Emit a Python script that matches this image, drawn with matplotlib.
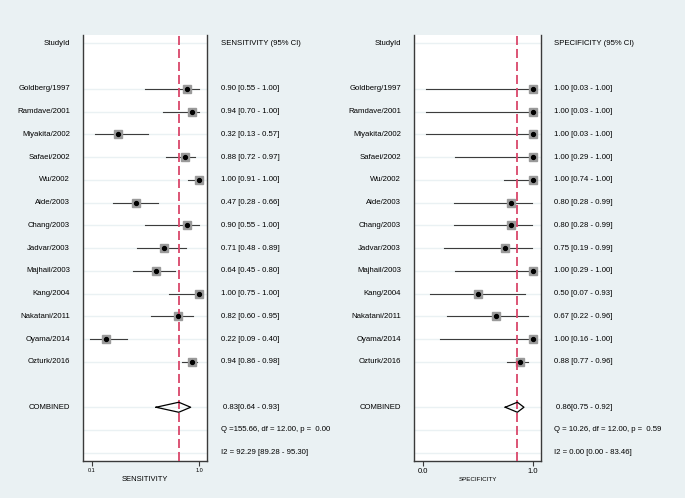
"""Paired forest plot of sensitivity and specificity (Stata midas style)."""

import matplotlib
matplotlib.use("Agg")
import matplotlib.pyplot as plt
from matplotlib.transforms import blended_transform_factory

plt.rcParams["font.family"] = ["Liberation Sans", "DejaVu Sans"]

# ── data ──────────────────────────────────────────────────────────────
studies = ["Goldberg/1997", "Ramdave/2001", "Miyakita/2002", "Safaei/2002",
           "Wu/2002", "Aide/2003", "Chang/2003", "Jadvar/2003",
           "Majhail/2003", "Kang/2004", "Nakatani/2011", "Oyama/2014",
           "Ozturk/2016"]

sens    = [0.90, 0.94, 0.32, 0.88, 1.00, 0.47, 0.90, 0.71, 0.64, 1.00, 0.82, 0.22, 0.94]
sens_lo = [0.55, 0.70, 0.13, 0.72, 0.91, 0.28, 0.55, 0.48, 0.45, 0.75, 0.60, 0.09, 0.86]
sens_hi = [1.00, 1.00, 0.57, 0.97, 1.00, 0.66, 1.00, 0.89, 0.80, 1.00, 0.95, 0.40, 0.98]

spec    = [1.00, 1.00, 1.00, 1.00, 1.00, 0.80, 0.80, 0.75, 1.00, 0.50, 0.67, 1.00, 0.88]
spec_lo = [0.03, 0.03, 0.03, 0.29, 0.74, 0.28, 0.28, 0.19, 0.29, 0.07, 0.22, 0.16, 0.77]
spec_hi = [1.00, 1.00, 1.00, 1.00, 1.00, 0.99, 0.99, 0.99, 1.00, 0.93, 0.96, 1.00, 0.96]

sens_pooled = (0.83, 0.64, 0.93)
spec_pooled = (0.86, 0.75, 0.92)

sens_stats = ["Q =155.66, df = 12.00, p =  0.00", "I2 = 92.29 [89.28 - 95.30]"]
spec_stats = ["Q = 10.26, df = 12.00, p =  0.59", "I2 = 0.00 [0.00 - 83.46]"]

# ── layout (pixels of a 685x498 canvas) ───────────────────────────────
W, H = 685, 498
BG = "#eaf1f3"
RED = "#d9466a"
FS = 5.6

fig = plt.figure(figsize=(W / 100, H / 100), dpi=100, facecolor=BG)

n = len(studies)
study_rows = list(range(2, 2 + n))
comb_row = n + 3
stat_rows = [n + 4, n + 5]
grid_rows = [0] + study_rows + [comb_row] + stat_rows


def panel(x_left, x_right, xlim, ticks, ticklabels, tick_fs,
          est, lo, hi, pooled, header, stats, xlabel, xlabel_fs,
          name_x, value_x):
    ax = fig.add_axes([x_left / W, 1 - 460.7 / H,
                       (x_right - x_left) / W, 425.7 / H])
    ax.set_facecolor("white")
    ax.set_xlim(*xlim)
    ax.set_ylim(18.35, -0.365)

    for r in grid_rows:
        ax.axhline(r, color=BG, lw=1.0, zorder=0)

    for r, e, l, h in zip(study_rows, est, lo, hi):
        ax.plot([l, h], [r, r], color="#3c3c3c", lw=0.8, zorder=2)
        ax.plot(e, r, marker="s", ms=5.2, color="#9a9a9a", mec="#9a9a9a", zorder=3)
        ax.plot(e, r, marker="o", ms=2.8, color="black", zorder=4)

    p, pl, ph = pooled
    dh = 0.22
    ax.plot([pl, p, ph, p, pl], [comb_row, comb_row - dh, comb_row, comb_row + dh, comb_row],
            color="black", lw=0.9, zorder=4)
    ax.axvline(p, color=RED, lw=1.3, ls=(0, (5, 2.2)), zorder=3)

    for side in ("top",):
        ax.spines[side].set_visible(False)
    for side in ("left", "right", "bottom"):
        ax.spines[side].set_color("#3a3a3a")
        ax.spines[side].set_linewidth(1.0)

    ax.set_yticks([])
    ax.set_xticks(ticks)
    ax.set_xticklabels(ticklabels, fontsize=tick_fs)
    ax.tick_params(axis="x", direction="out", length=3.5, width=0.8,
                   color="#3a3a3a", pad=2)

    tr = blended_transform_factory(fig.transFigure, ax.transData)
    ax.text(name_x / W, 0, "StudyId", transform=tr, ha="right", va="center", fontsize=FS)
    ax.text(value_x / W, 0, header, transform=tr, ha="left", va="center", fontsize=FS)
    for r, s, e, l, h in zip(study_rows, studies, est, lo, hi):
        ax.text(name_x / W, r, s, transform=tr, ha="right", va="center", fontsize=FS)
        ax.text(value_x / W, r, f"{e:.2f} [{l:.2f} - {h:.2f}]", transform=tr,
                ha="left", va="center", fontsize=FS)
    ax.text(name_x / W, comb_row, "COMBINED", transform=tr, ha="right", va="center", fontsize=FS)
    ax.text((value_x + 2) / W, comb_row, f"{p:.2f}[{pl:.2f} - {ph:.2f}]", transform=tr,
            ha="left", va="center", fontsize=FS)
    for r, s in zip(stat_rows, stats):
        ax.text(value_x / W, r, s, transform=tr, ha="left", va="center", fontsize=FS)

    fig.text((x_left + x_right) / 2 / W + 0.0, 1 - 479 / H, xlabel,
             ha="center", va="center", fontsize=xlabel_fs)
    return ax


panel(83, 207, (0.0272, 1.067), [0.1, 1.0], ["0.1", "1.0"], 4.0,
      sens, sens_lo, sens_hi, sens_pooled, "SENSITIVITY (95% CI)", sens_stats,
      "SENSITIVITY", 5.5, 70, 221)

panel(414, 541, (-0.079, 1.075), [0.0, 1.0], ["0.0", "1.0"], 5.5,
      spec, spec_lo, spec_hi, spec_pooled, "SPECIFICITY (95% CI)", spec_stats,
      "SPECIFICITY", 4.5, 401, 554)

fig.savefig("out.png", dpi=100, facecolor=BG)
plt.close(fig)
